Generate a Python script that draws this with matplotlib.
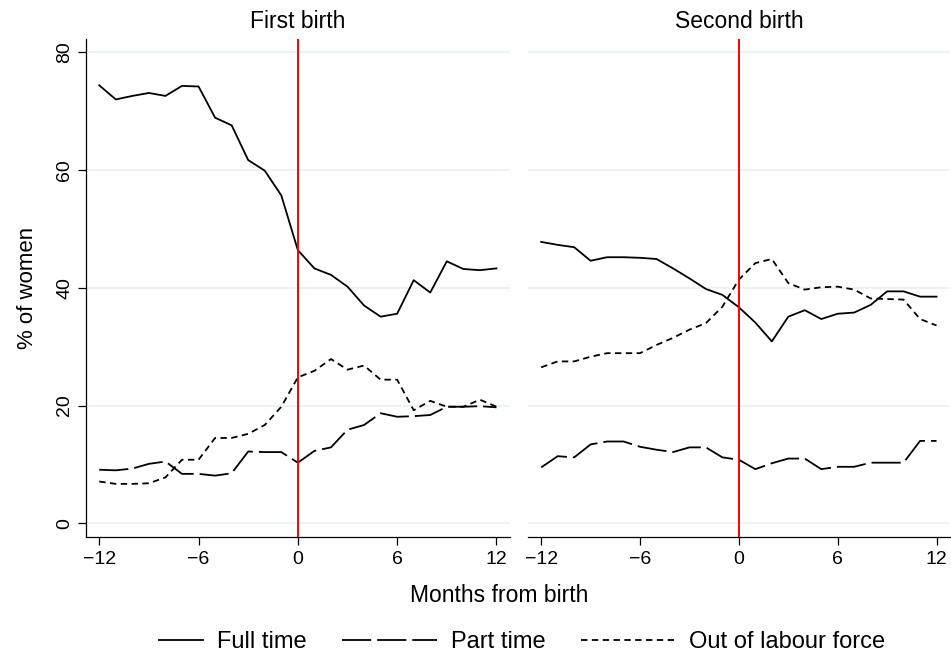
import numpy as np
import matplotlib
matplotlib.use("Agg")
import matplotlib.pyplot as plt
from matplotlib.legend_handler import HandlerLine2D

plt.rcParams['font.family'] = ['Liberation Sans', 'DejaVu Sans']
plt.rcParams['lines.scale_dashes'] = False

# months relative to the birth
months = list(range(-12, 13))
x_ticks = [-12, -6, 0, 6, 12]
y_ticks = [0, 20, 40, 60, 80]
panel_titles = ["First birth", "Second birth"]
series_names = ["Full time", "Part time", "Out of labour force"]

# % of women by labour status, first birth
first_full = [74.4, 72.0, 72.6, 73.1, 72.6, 74.3, 74.2, 68.9, 67.6, 61.7, 59.9, 55.7,
              46.4, 43.3, 42.2, 40.2, 37.0, 35.1, 35.6, 41.3, 39.2, 44.5, 43.2, 43.0, 43.3]
first_part = [9.1, 9.0, 9.3, 10.1, 10.5, 8.4, 8.4, 8.1, 8.5, 12.2, 12.1, 12.1,
              10.3, 12.3, 12.9, 15.9, 16.7, 18.7, 18.1, 18.2, 18.4, 19.8, 19.8, 19.9, 19.7]
first_olf = [7.1, 6.7, 6.7, 6.8, 7.8, 10.8, 10.8, 14.5, 14.5, 15.2, 16.7, 19.8,
             24.8, 25.9, 27.9, 26.1, 26.8, 24.4, 24.4, 19.2, 20.8, 19.8, 19.8, 21.0, 19.8]

# % of women by labour status, second birth
second_full = [47.8, 47.3, 46.9, 44.6, 45.2, 45.2, 45.1, 44.9, 43.3, 41.6, 39.8, 38.8,
               36.7, 34.1, 30.9, 35.1, 36.2, 34.7, 35.6, 35.8, 37.1, 39.4, 39.4, 38.5, 38.5]
second_part = [9.5, 11.4, 11.2, 13.4, 13.9, 13.9, 13.0, 12.5, 12.1, 12.9, 12.9, 11.2,
               10.8, 9.2, 10.2, 11.0, 11.0, 9.2, 9.6, 9.6, 10.3, 10.3, 10.3, 14.0, 14.0]
second_olf = [26.5, 27.5, 27.5, 28.3, 28.9, 28.9, 28.9, 30.3, 31.5, 32.9, 34.0, 36.8,
              41.4, 44.2, 44.9, 40.8, 39.7, 40.1, 40.2, 39.7, 38.2, 38.1, 38.0, 34.7, 33.6]

panels = [
    [first_full, first_part, first_olf],
    [second_full, second_part, second_olf],
]

styles = [
    dict(linestyle='-'),
    dict(linestyle=(0, (21, 4.3))),
    dict(linestyle=(0, (4.6, 3.2))),
]

grid_col = '#eaf1f3'
lw = 1.3

fig = plt.figure(figsize=(9.51, 6.54), dpi=100)
ax1 = fig.add_axes([0.0901, 0.1784, 0.4462, 0.7619])
ax2 = fig.add_axes([0.5549, 0.1784, 0.4441, 0.7619])

lines = []
for ax, data, title in zip([ax1, ax2], panels, panel_titles):
    for vals, st in zip(data, styles):
        ln, = ax.plot(months, vals, color='black', lw=lw, **st)
        if ax is ax1:
            lines.append(ln)
    ax.axvline(0, color='#ff0000', lw=1.4, zorder=5)
    ax.set_xlim(-12.82, 12.82)
    ax.set_ylim(-2.38, 82.26)
    ax.set_xticks(x_ticks)
    ax.set_yticks(y_ticks)
    ax.grid(axis='y', color=grid_col, lw=1.2)
    ax.set_axisbelow(True)
    for s in ['top', 'right']:
        ax.spines[s].set_visible(False)
    ax.spines['bottom'].set_linewidth(0.9)
    ax.spines['left'].set_linewidth(0.9)
    ax.tick_params(axis='x', length=5.5, width=0.9, pad=4, labelsize=14)
    ax.tick_params(axis='y', length=5.8, width=0.9, pad=3, labelsize=14)
    ax.set_title(title, fontsize=16.5, pad=8)

for lab in ax1.get_yticklabels():
    lab.set_rotation(90)
    lab.set_va('center')

ax2.spines['left'].set_visible(False)
ax2.tick_params(axis='y', left=False, labelleft=False)

ax1.set_ylabel("% of women", fontsize=16, labelpad=13)
fig.text(499.5 / 951, 0.080, "Months from birth", ha='center', va='baseline', fontsize=16.5)


class ShortLine(HandlerLine2D):
    # draw the solid key over the right part of the handle box only
    def get_xdata(self, legend, xdescent, ydescent, width, height, fontsize):
        xdata = np.array([-xdescent + 0.53 * width, -xdescent + width])
        return xdata, np.array([-xdescent + 0.5 * width])


fig.legend(lines, series_names, loc='center', bbox_to_anchor=(497 / 951, 0.018),
           ncol=3, frameon=False, fontsize=17, borderpad=0, handlelength=4.0,
           handletextpad=0.6, columnspacing=1.5,
           handler_map={lines[0]: ShortLine()})

fig.savefig("out.png", dpi=100)
